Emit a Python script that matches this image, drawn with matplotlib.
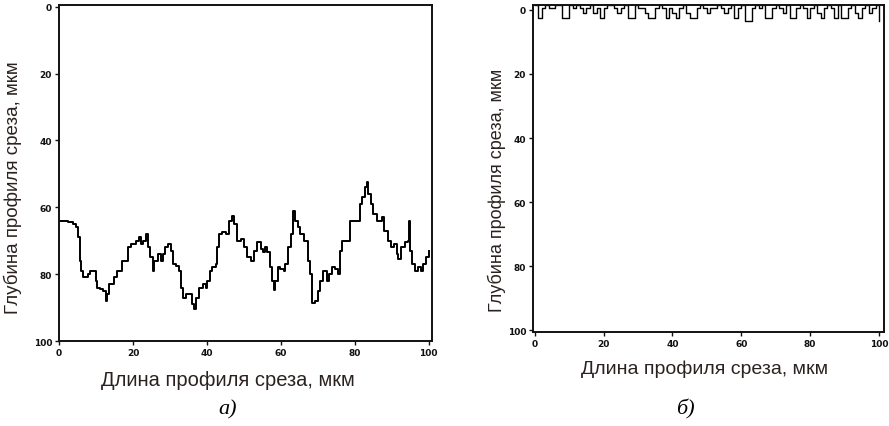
import matplotlib
matplotlib.use('Agg')
import matplotlib.pyplot as plt

# ---- левый профиль (а): длина, мкм / глубина, мкм ----
x_a = [0, 2.4, 3.8, 4.7, 5.1, 5.6, 6.0, 6.6, 7.2, 7.8, 8.4, 9.2, 9.9, 10.2, 11.0,
       11.8, 12.6, 12.9, 13.6, 15.0, 15.6, 17.1, 18.6, 19.5, 20.8, 21.7, 22.2,
       22.8, 23.5, 24.0, 24.6, 25.3, 25.8, 26.2, 26.9, 27.6, 28.0, 28.7, 29.4,
       30.3, 30.7, 31.6, 32.5, 32.9, 33.4, 34.3, 35.2, 35.9, 36.4, 37.0, 37.9,
       39.0, 39.7, 40.1, 40.8, 41.5, 42.4, 42.8, 43.3, 44.0, 45.1, 46.0, 46.9,
       47.3, 48.2, 49.1, 50.0, 50.9, 51.8, 52.7, 53.6, 54.5, 55.2, 55.8, 56.3,
       57.2, 57.6, 58.1, 58.5, 59.2, 59.9, 60.8, 61.2, 61.9, 62.8, 63.3, 63.9,
       64.6, 65.3, 66.2, 67.3, 68.0, 68.4, 69.3, 70.0, 70.6, 71.5, 72.4, 73.1,
       73.8, 74.7, 75.4, 76.0, 76.5, 78.3, 78.7, 81.0, 81.4, 82.0, 82.8, 83.2,
       83.7, 84.4, 85.0, 85.9, 87.3, 88.0, 88.9, 89.8, 90.7, 91.3, 91.7, 92.6,
       93.5, 94.3, 94.6, 95.0, 95.5, 96.2, 97.1, 98.0, 98.5, 99.4, 100.0]
depth_a = [64, 64.5, 65, 66, 69, 76, 79, 81, 81, 80, 79, 79, 82, 84, 84.5,
           85, 88, 86, 83, 81, 79, 76, 72, 71, 70, 69, 71,
           70, 68, 72, 75, 79, 76, 76, 74, 76, 74, 72, 71,
           73, 77, 77.5, 79, 84, 87, 86, 86, 89, 90.5, 87, 84,
           83, 84, 82, 79, 78, 77, 72, 68, 67.5, 68, 64, 62.7,
           65, 70, 69.5, 72, 75, 76, 73, 70.5, 72.5, 73.5, 72, 73.5,
           78, 82, 84.7, 82, 78, 78.5, 79, 77, 72, 68, 61, 64,
           66, 68, 70, 76, 80, 88.5, 88, 85, 82, 79, 82, 80,
           78, 78.5, 80, 73, 70, 70, 64, 64, 59, 57, 54, 52.5,
           56, 59, 62, 64, 63, 67, 70, 72, 71, 74, 75.5, 72,
           70.5, 70, 64, 73, 77, 79, 78, 79, 77, 75, 73]

# ---- правый профиль (б): шаг 1 мкм, верхняя линия лежит на рамке ----
x_b = list(range(0, 101))
depth_b = [-1.5, 2.5, -0.5, -1.5, -0.5, -0.5, -1.5, -1.5, 2.5, 2.5,
           -1.5, -0.5, -1.5, -0.5, 1.0, -0.5, -1.5, 1.0, -0.5, 2.5,
           -0.5, -1.5, -1.5, -0.5, 1.0, -0.5, -1.5, 2.5, 2.5, -1.5,
           -0.5, -0.5, 1.0, 2.5, 2.5, -0.5, -1.5, -0.5, 2.5, -0.5,
           1.0, 2.5, -0.5, -1.5, 1.0, 2.5, 2.5, -0.5, -1.5, -0.5,
           1.0, -0.5, -0.5, -1.5, -0.5, 1.0, -0.5, -1.5, 2.5, -0.5,
           -1.5, 3.5, 3.5, -0.5, -1.5, -0.5, -1.5, 2.5, 2.5, -0.5,
           -1.5, -0.5, 1.0, -1.5, 2.5, 2.5, -0.5, -1.5, -0.5, 2.5,
           -0.5, -1.5, 1.0, 2.5, -0.5, -1.5, -0.5, 2.5, -1.5, 2.5,
           2.5, -0.5, -1.5, 1.0, 2.5, -0.5, -1.5, 1.0, -0.5, -1.5, 3.5]

ticks = [0, 20, 40, 60, 80, 100]
xlabel = "Длина профиля среза, мкм"
ylabel = "Глубина профиля среза, мкм"
label_color = '#2b2220'

plt.rcParams['font.family'] = ['Liberation Sans', 'DejaVu Sans']

fig = plt.figure(figsize=(8.89, 4.27), dpi=100)
ax_a = fig.add_axes([0.0664, 0.199, 0.420, 0.787])
ax_b = fig.add_axes([0.5996, 0.220, 0.395, 0.766])


def style_axes(ax, xlim, ylim):
    ax.set_xlim(*xlim)
    ax.set_ylim(*ylim)
    ax.set_xticks(ticks)
    ax.set_yticks(ticks)
    for side in ax.spines.values():
        side.set_linewidth(1.4)
        side.set_color('#111111')
    ax.tick_params(direction='out', length=3, width=1, pad=2,
                   labelsize=6.5, colors='#111111')
    for lab in ax.get_xticklabels() + ax.get_yticklabels():
        lab.set_fontfamily('DejaVu Sans')
        lab.set_fontweight('bold')


ax_a.step(x_a, depth_a, where='post', color='black', linewidth=1.4)
style_axes(ax_a, (0, 101), (98.5, -0.5))

ax_b.step(x_b, depth_b, where='post', color='black', linewidth=1.0)
style_axes(ax_b, (-0.5, 101.5), (100.5, -1.5))

# подписи осей
fig.text(0.256, 0.110, xlabel, ha='center', va='center', fontsize=14.5, color=label_color)
fig.text(0.0146, 0.56, ylabel, ha='center', va='center', rotation=90,
         fontsize=13.5, color=label_color)
fig.text(0.793, 0.136, xlabel, ha='center', va='center', fontsize=14, color=label_color)
fig.text(0.559, 0.553, ylabel, ha='center', va='center', rotation=90,
         fontsize=13, color=label_color)

# обозначения рисунков
fig.text(0.256, 0.04, "а)", ha='center', va='center', fontsize=16,
         family='Liberation Serif', style='italic')
fig.text(0.771, 0.04, "б)", ha='center', va='center', fontsize=16,
         family='Liberation Serif', style='italic')

fig.savefig('out.png', dpi=100)
plt.close(fig)
